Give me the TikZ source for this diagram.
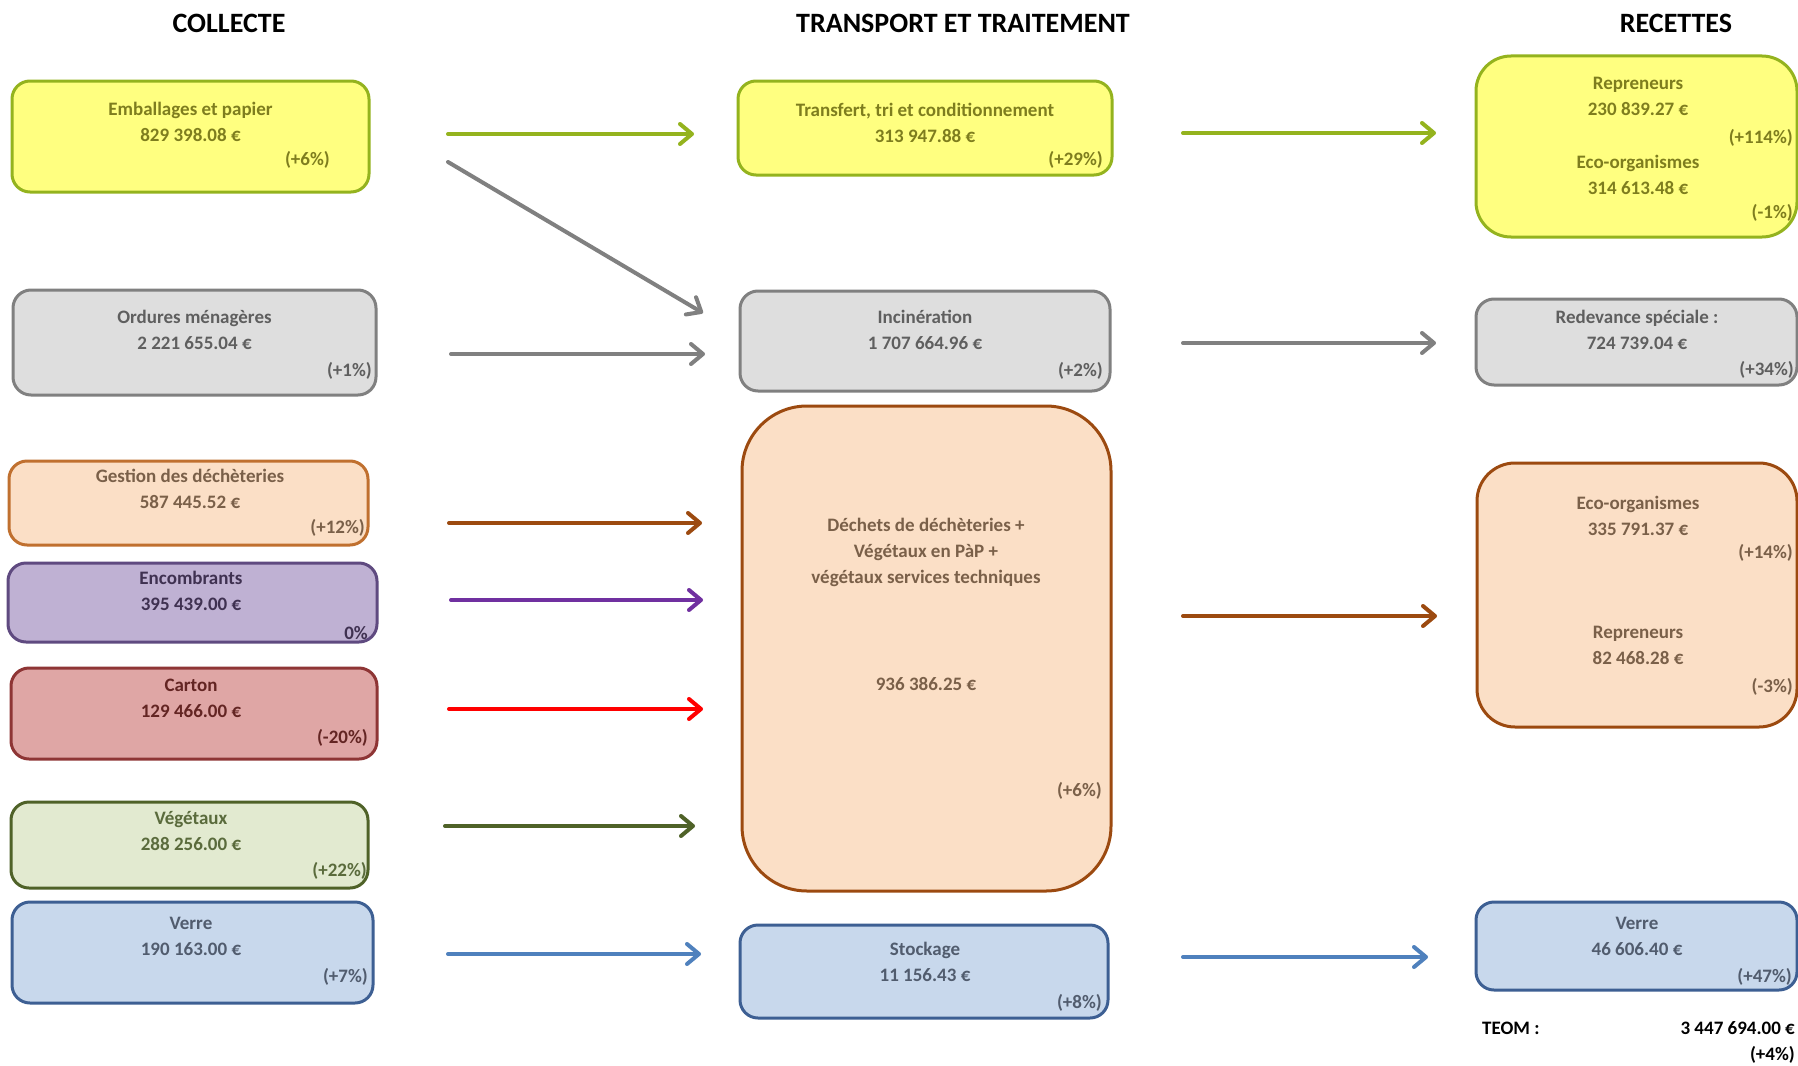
\documentclass[tikz,border=0pt]{standalone}
\usepackage{fontspec}
\setmainfont{Carlito}
\usetikzlibrary{arrows.meta}
\newcommand\bxfont{\fontsize{19}{26}\selectfont\bfseries}
\newcommand\hdfont{\fontsize{28}{33}\selectfont\bfseries}
\definecolor{yelF}{HTML}{FFFF80}\definecolor{yelD}{HTML}{94B31E}\definecolor{yelT}{HTML}{7E7D1E}
\definecolor{grF}{HTML}{DEDEDE}\definecolor{grD}{HTML}{808080}\definecolor{grT}{HTML}{5F5F5F}
\definecolor{peF}{HTML}{FBDFC6}\definecolor{peD}{HTML}{C0702F}\definecolor{peD2}{HTML}{9C4A10}\definecolor{peT}{HTML}{7A6049}
\definecolor{puF}{HTML}{BFB1D3}\definecolor{puD}{HTML}{5F4A80}\definecolor{puT}{HTML}{3F3151}
\definecolor{caF}{HTML}{DFA6A5}\definecolor{caD}{HTML}{8E3535}\definecolor{caT}{HTML}{632523}
\definecolor{veF}{HTML}{E2EAD0}\definecolor{veD}{HTML}{4F6228}\definecolor{veT}{HTML}{5A6B3C}
\definecolor{blF}{HTML}{C8D8EC}\definecolor{blD}{HTML}{3D5F93}\definecolor{blT}{HTML}{515C6E}
\definecolor{arPu}{HTML}{7030A0}\definecolor{arBl}{HTML}{4F81BD}
\begin{document}
\begin{tikzpicture}[x=1pt,y=-1pt,
  box/.style={draw, line width=3pt, rounded corners=18pt, inner sep=0pt, outer sep=0pt},
  lbl/.style={inner sep=0pt, align=center, font=\bxfont},
  pct/.style={inner sep=0pt, anchor=east, font=\bxfont},
  hd/.style={inner sep=0pt, font=\hdfont},
  flow/.style={line width=4pt, line cap=round, -{Straight Barb[length=12pt,width=20pt,round]}}]
\useasboundingbox[fill=white] (0,0) rectangle (1798,1065);

% headers
\node[hd] (h1) at (229,23) {COLLECTE};
\node[hd] (h2) at (963,23) {TRANSPORT ET TRAITEMENT};
\node[hd] (h3) at (1676,23) {RECETTES};

% ---------- left column
\node[box, fill=yelF, draw=yelD, minimum width=357pt, minimum height=111pt] (emb) at (190.5,136.5) {};
\node[lbl, text=yelT] (embT) at (190.5,122) {Emballages et papier\\829 398.08 €};
\node[pct, text=yelT] (embP) at (330,160) {(+6\%)};

\node[box, fill=grF, draw=grD, minimum width=363pt, minimum height=105pt] (ord) at (194.5,342.5) {};
\node[lbl, text=grT] (ordT) at (194.5,330) {Ordures ménagères\\2 221 655.04 €};
\node[pct, text=grT] (ordP) at (372,371) {(+1\%)};

\node[box, fill=peF, draw=peD, minimum width=359pt, minimum height=84pt] (ges) at (188.5,503) {};
\node[lbl, text=peT] (gesT) at (190,489) {Gestion des déchèteries\\587 445.52 €};
\node[pct, text=peT] (gesP) at (365,528) {(+12\%)};

\node[box, fill=puF, draw=puD, minimum width=369pt, minimum height=79pt] (enc) at (192.5,602.5) {};
\node[lbl, text=puT] (encT) at (191,591) {Encombrants\\395 439.00 €};
\node[pct, text=puT] (encP) at (368,633) {0\%};

\node[box, fill=caF, draw=caD, minimum width=366pt, minimum height=91pt] (car) at (194,713.5) {};
\node[lbl, text=caT] (carT) at (191,698) {Carton\\129 466.00 €};
\node[pct, text=caT] (carP) at (368,738) {(-20\%)};

\node[box, fill=veF, draw=veD, minimum width=357pt, minimum height=86pt] (veg) at (189.5,845) {};
\node[lbl, text=veT] (vegT) at (191,830.5) {Végétaux\\288 256.00 €};
\node[pct, text=veT] (vegP) at (367,871) {(+22\%)};

\node[box, fill=blF, draw=blD, minimum width=361pt, minimum height=101pt] (ver) at (192.5,952.5) {};
\node[lbl, text=blT] (verT) at (191,936) {Verre\\190 163.00 €};
\node[pct, text=blT] (verP) at (368,977) {(+7\%)};

% ---------- middle column
\node[box, fill=yelF, draw=yelD, minimum width=374pt, minimum height=94pt] (tra) at (925,128) {};
\node[lbl, text=yelT] (traT) at (925,122.5) {Transfert, tri et conditionnement\\313 947.88 €};
\node[pct, text=yelT] (traP) at (1103,160) {(+29\%)};

\node[box, fill=grF, draw=grD, minimum width=370pt, minimum height=100pt] (inc) at (925,341) {};
\node[lbl, text=grT] (incT) at (925,330) {Incinération\\1 707 664.96 €};
\node[pct, text=grT] (incP) at (1103,371) {(+2\%)};

\node[box, fill=peF, draw=peD2, rounded corners=65pt, minimum width=369pt, minimum height=485pt] (dec) at (926.5,648.5) {};
\node[lbl, text=peT] (decT) at (926,552.5) {Déchets de déchèteries +\\Végétaux en PàP +\\végétaux services techniques};
\node[lbl, text=peT] (decV) at (926,684) {936 386.25 €};
\node[pct, text=peT] (decP) at (1102,791) {(+6\%)};

\node[box, fill=blF, draw=blD, minimum width=368pt, minimum height=93pt] (sto) at (924,971.5) {};
\node[lbl, text=blT] (stoT) at (925,962) {Stockage\\11 156.43 €};
\node[pct, text=blT] (stoP) at (1102,1003) {(+8\%)};

% ---------- right column
\node[box, fill=yelF, draw=yelD, rounded corners=35pt, minimum width=321pt, minimum height=181pt] (rep) at (1636.5,146.5) {};
\node[lbl, text=yelT] (repT1) at (1638,96.5) {Repreneurs\\230 839.27 €};
\node[pct, text=yelT] (repP1) at (1793,138) {(+114\%)};
\node[lbl, text=yelT] (repT2) at (1638,174.5) {Eco-organismes\\314 613.48 €};
\node[pct, text=yelT] (repP2) at (1793,213) {(-1\%)};

\node[box, fill=grF, draw=grD, minimum width=321pt, minimum height=86pt] (red) at (1636.5,342) {};
\node[lbl, text=grT] (redT) at (1637,330) {Redevance spéciale :\\724 739.04 €};
\node[pct, text=grT] (redP) at (1794,370) {(+34\%)};

\node[box, fill=peF, draw=peD2, rounded corners=38pt, minimum width=320pt, minimum height=264pt] (eco) at (1637,595) {};
\node[lbl, text=peT] (ecoT1) at (1638,515.5) {Eco-organismes\\335 791.37 €};
\node[pct, text=peT] (ecoP1) at (1793,553) {(+14\%)};
\node[lbl, text=peT] (ecoT2) at (1638,645) {Repreneurs\\82 468.28 €};
\node[pct, text=peT] (ecoP2) at (1793,687) {(-3\%)};

\node[box, fill=blF, draw=blD, minimum width=321pt, minimum height=88pt] (ver2) at (1636.5,946) {};
\node[lbl, text=blT] (ver2T) at (1637,936.5) {Verre\\46 606.40 €};
\node[pct, text=blT] (ver2P) at (1792,977) {(+47\%)};

\node[inner sep=0pt, anchor=west, font=\bxfont] (teom) at (1482,1028) {TEOM :};
\node[pct] (teomV) at (1795,1028) {3 447 694.00 €};
\node[pct] (teomP) at (1795,1055) {(+4\%)};

% ---------- arrow end points
\coordinate (a1s) at (448,134);  \coordinate (a1e) at (694,134);
\coordinate (a2s) at (448,162);  \coordinate (a2e) at (703,313);
\coordinate (a3s) at (451,354);  \coordinate (a3e) at (705,354);
\coordinate (a4s) at (449,523);  \coordinate (a4e) at (702,523);
\coordinate (a5s) at (451,600);  \coordinate (a5e) at (703,600);
\coordinate (a6s) at (449,709);  \coordinate (a6e) at (703,709);
\coordinate (a7s) at (445,826);  \coordinate (a7e) at (695,826);
\coordinate (a8s) at (448,954);  \coordinate (a8e) at (701,954);
\coordinate (b1s) at (1183,133); \coordinate (b1e) at (1436,133);
\coordinate (b2s) at (1183,343); \coordinate (b2e) at (1436,343);
\coordinate (b3s) at (1183,616); \coordinate (b3e) at (1437,616);
\coordinate (b4s) at (1183,957); \coordinate (b4e) at (1428,957);

\draw[flow, yelD] (a1s) -- (a1e);
\draw[flow, grD] (a2s) -- (a2e);
\draw[flow, grD] (a3s) -- (a3e);
\draw[flow, peD2] (a4s) -- (a4e);
\draw[flow, arPu] (a5s) -- (a5e);
\draw[flow, red] (a6s) -- (a6e);
\draw[flow, veD] (a7s) -- (a7e);
\draw[flow, arBl] (a8s) -- (a8e);
\draw[flow, yelD] (b1s) -- (b1e);
\draw[flow, grD] (b2s) -- (b2e);
\draw[flow, peD2] (b3s) -- (b3e);
\draw[flow, arBl] (b4s) -- (b4e);
\end{tikzpicture}
\end{document}
